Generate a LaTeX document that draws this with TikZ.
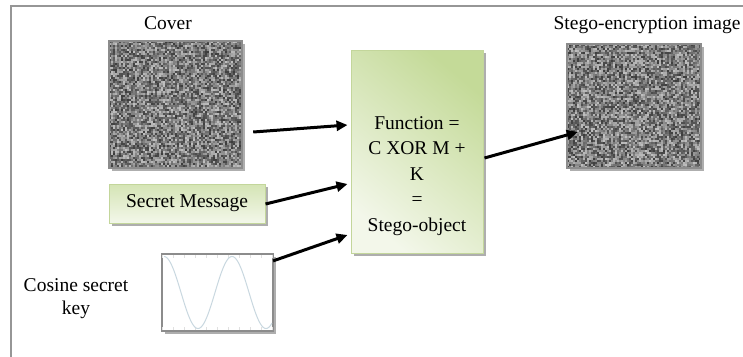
\documentclass[tikz,border=0pt]{standalone}
\usepackage{fontspec}
\setmainfont{Liberation Serif}
\usetikzlibrary{calc,arrows.meta,shadows}
\definecolor{frameGray}{HTML}{969696}
\definecolor{leafEdge}{HTML}{C3D69B}
\definecolor{leafDark}{HTML}{C4DA98}
\definecolor{leafLight}{HTML}{F3F7EA}
\definecolor{waveBlue}{HTML}{C9D8E0}
\def\noisepatch(#1,#2)(#3,#4){\foreach \i in {0,...,#3}{\foreach \j in {0,...,#4}{\pgfmathsetmacro{\g}{int(25+52*rnd)}\fill[black!\g] ({#1+2*\i},{#2+2*\j}) rectangle ++(2,2);}}}
\tikzset{
  softshadow/.style={drop shadow={shadow xshift=3pt, shadow yshift=-3pt, opacity=0.45, fill=black!70}},
  imgbox/.style={fill=gray, softshadow, inner sep=0pt},
  imgedge/.style={draw=black!45, line width=1.8pt},
  leafbox/.style={draw=leafEdge, line width=1pt, softshadow, inner sep=0pt,
    top color=leafDark, bottom color=leafLight, shading angle=-40},
}
\tikzset{flowarrow/.style={line width=3pt, -{Triangle[length=11pt,width=10pt]}}}

\begin{document}
\begin{tikzpicture}[x=1pt, y=-1pt, font=\fontsize{19.5}{24}\selectfont]
		%%%%% FRAME %%%%%
		\useasboundingbox (0,0) rectangle (743,356);
		\clip (0,0) rectangle (743,356);
		\draw[frameGray, line width=1.3pt] (11,6) rectangle (770,380);
		
		%%%%% COVER %%%%%
		\pgfmathsetseed{4711}
		\node (coverlbl) at (168,23) {Cover};
		\node[imgbox, minimum width=133, minimum height=127] (cover) at (175.5,104.5) {};
		\noisepatch(109,41)(65,62)
		\draw[imgedge] (cover.north west) rectangle (cover.south east);
		
		%%%%% SECRET MESSAGE %%%%%
		\node[leafbox, top color=leafDark!65!leafLight, minimum width=156, minimum height=39] (msg) at (187,203.5) {Secret Message};
		
		%%%%% COSINE KEY %%%%%
		\node[align=center, font=\fontsize{19.5}{23}\selectfont] (keylbl) at (76,299) {Cosine secret\\key};
		\node[fill=white, draw=black!45, line width=2.2pt, softshadow, minimum width=111, minimum height=77] (coskey) at (217.5,292.5) {};
		\foreach \t in {0,11,...,110}{
			\draw[black!12, line width=0.5pt] (162+\t,255) -- ++(0,3);
			\draw[black!12, line width=0.5pt] (162+\t,330) -- ++(0,-3);
		}
		\begin{scope}
			\clip (coskey.north west) rectangle (coskey.south east);
			\draw[waveBlue, line width=1pt] plot[domain=0:108, samples=90] ({164+\x},{292.5-36*cos(\x*5.2941)});
		\end{scope}
		
		%%%%% FUNCTION %%%%%
		\node[leafbox, minimum width=132, minimum height=203] (func) at (417,151.5) {};
		\node[align=center, font=\fontsize{19.5}{25.5}\selectfont] (functxt) at (417,176) {Function =\\C XOR M +\\K\\=\\Stego-object};
		
		%%%%% STEGO IMAGE %%%%%
		\node (stegolbl) at (647,25) {Stego-encryption image};
		\node[imgbox, minimum width=134, minimum height=124] (stego) at (634,106) {};
		\noisepatch(567,44)(66,61)
		\draw[imgedge] (stego.north west) rectangle (stego.south east);
		
		%%%%% ARROWS %%%%%
		\draw[flowarrow] ($(cover.east)+(11,27.5)$) -- ($(func.west)+(-3,-26.5)$);
		\draw[flowarrow] ($(msg.east)+(0,0.5)$) -- ($(func.west)+(-3,32.5)$);
		\draw[flowarrow] ($(coskey.north east)+(-1,8)$) -- ($(func.west)+(-3,83.5)$);
		\draw[flowarrow] ($(func.east)+(1,6.5)$) -- ($(stego.west)+(11,26)$);
\end{tikzpicture}
\end{document}
